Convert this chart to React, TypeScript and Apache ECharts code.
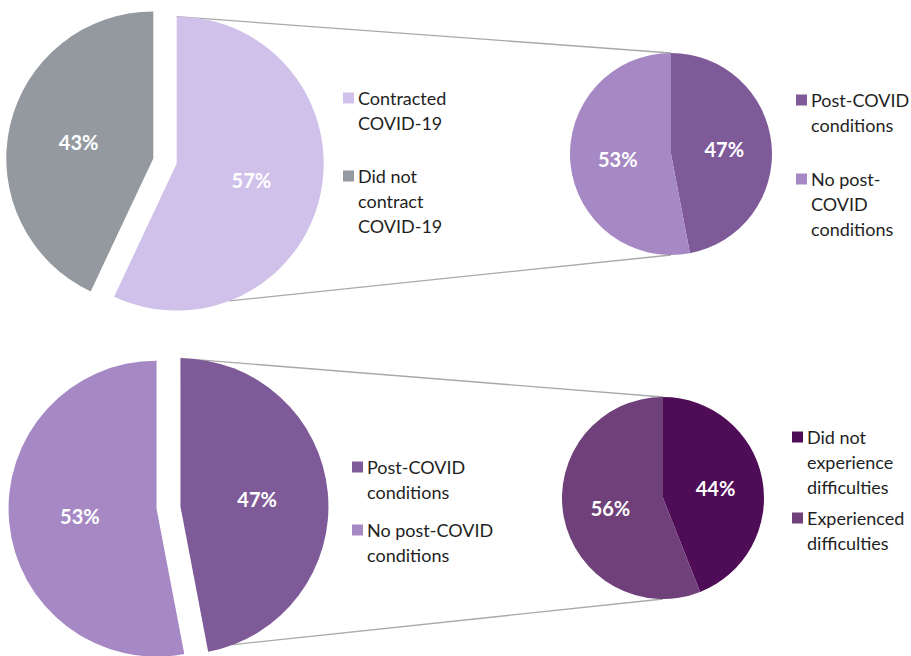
import React, { useEffect, useRef } from "react";
import * as echarts from "echarts";

// ---- Data ----
const covidCategories = ["Contracted COVID-19", "Did not contract COVID-19"];
const covidValues = [57, 43];
const covidLegendLabels = ["Contracted\nCOVID-19", "Did not\ncontract\nCOVID-19"];

const postCategories = ["Post-COVID conditions", "No post-COVID conditions"];
const postValues = [47, 53];
const postLegendLabelsA = ["Post-COVID\nconditions", "No post-\nCOVID\nconditions"];
const postLegendLabelsB = ["Post-COVID\nconditions", "No post-COVID\nconditions"];

const diffCategories = ["Did not experience difficulties", "Experienced difficulties"];
const diffValues = [44, 56];
const diffLegendLabels = ["Did not\nexperience\ndifficulties", "Experienced\ndifficulties"];

// ---- Styles ----
const COLORS_COVID = ["#d0c1eb", "#93999f"];
const COLORS_POST = ["#7f5a99", "#a689c4"];
const COLORS_DIFF = ["#4f0c57", "#6f407a"];
const FONT = "Lato, 'Open Sans', sans-serif";
const TEXT_COLOR = "#1f1f1f";
const LINE_COLOR = "#a9a9a9";
const OFFSET = 12;

type PieLayout = { cx: number; cy: number; r: number };
const TL: PieLayout = { cx: 165, cy: 161, r: 147 };
const TR: PieLayout = { cx: 671, cy: 154, r: 101 };
const BL: PieLayout = { cx: 168.5, cy: 507.5, r: 148 };
const BR: PieLayout = { cx: 663, cy: 498, r: 101 };

function pieSeries(name: string, layout: PieLayout, cats: string[], vals: number[], colors: string[], exploded: boolean) {
  return {
    type: "pie",
    name,
    center: [layout.cx, layout.cy],
    radius: layout.r,
    startAngle: 90,
    clockwise: true,
    silent: true,
    selectedMode: exploded ? "multiple" : false,
    selectedOffset: OFFSET,
    label: {
      show: true,
      position: "inside",
      formatter: (p: any) => p.value + "%",
      color: "#ffffff",
      fontFamily: FONT,
      fontWeight: "bold",
      fontSize: 20,
    },
    labelLine: { show: false },
    itemStyle: { borderWidth: 0 },
    emphasis: { disabled: true },
    data: cats.map((c, i) => ({
      name: c,
      value: vals[i],
      selected: exploded,
      itemStyle: { color: colors[i] },
    })),
  };
}

// centre of exploded first slice
function firstSliceCenter(layout: PieLayout, vals: number[]) {
  const total = vals.reduce((a, b) => a + b, 0);
  const mid = ((vals[0] / total) * 360) / 2;
  const rad = (mid * Math.PI) / 180;
  return { x: layout.cx + OFFSET * Math.sin(rad), y: layout.cy - OFFSET * Math.cos(rad) };
}

function connectorLines(big: PieLayout, vals: number[], small: PieLayout) {
  const c = firstSliceCenter(big, vals);
  const a = (159 * Math.PI) / 180;
  const style = { stroke: LINE_COLOR, lineWidth: 1.3 };
  return [
    { type: "line", z: 0, silent: true, shape: { x1: c.x, y1: c.y - big.r, x2: small.cx, y2: small.cy - small.r }, style },
    {
      type: "line",
      z: 0,
      silent: true,
      shape: { x1: c.x + big.r * Math.sin(a), y1: c.y - big.r * Math.cos(a), x2: small.cx, y2: small.cy + small.r },
      style,
    },
  ];
}

// step = distance from the last line of one item to the first line of the next
function legendBlock(x: number, firstY: number, labels: string[], colors: string[], step: number) {
  const els: any[] = [];
  let y = firstY;
  const lh = 25;
  labels.forEach((lab, i) => {
    els.push({
      type: "rect",
      silent: true,
      shape: { x: x, y: y - 5.5, width: 11, height: 11 },
      style: { fill: colors[i] },
    });
    els.push({
      type: "text",
      silent: true,
      x: x + 15,
      y: y - lh / 2,
      style: {
        text: lab,
        fill: TEXT_COLOR,
        font: `18px ${FONT}`,
        lineHeight: lh,
        verticalAlign: "top",
        align: "left",
      },
    });
    const n = lab.split("\n").length;
    y += (n - 1) * lh + step;
  });
  return els;
}

export default function App() {
  const ref = useRef<HTMLDivElement>(null);
  useEffect(() => {
    document.body.style.margin = "0";
    if (!ref.current) return;
    const chart = echarts.init(ref.current, null, { renderer: "svg" });
    chart.setOption({
      animation: false,
      backgroundColor: "#ffffff",
      series: [
        pieSeries("covid", TL, covidCategories, covidValues, COLORS_COVID, true),
        pieSeries("post-top", TR, postCategories, postValues, COLORS_POST, false),
        pieSeries("post-bottom", BL, postCategories, postValues, COLORS_POST, true),
        pieSeries("diff", BR, diffCategories, diffValues, COLORS_DIFF, false),
      ],
      graphic: [
        ...connectorLines(TL, covidValues, TR),
        ...connectorLines(BL, postValues, BR),
        ...legendBlock(343, 98, covidLegendLabels, COLORS_COVID, 53),
        ...legendBlock(796, 100, postLegendLabelsA, COLORS_POST, 54),
        ...legendBlock(352, 467, postLegendLabelsB, COLORS_POST, 38),
        ...legendBlock(792, 437, diffLegendLabels, COLORS_DIFF, 31),
      ],
    });
    return () => chart.dispose();
  }, []);
  return <div ref={ref} style={{ width: 911, height: 656 }} />;
}
